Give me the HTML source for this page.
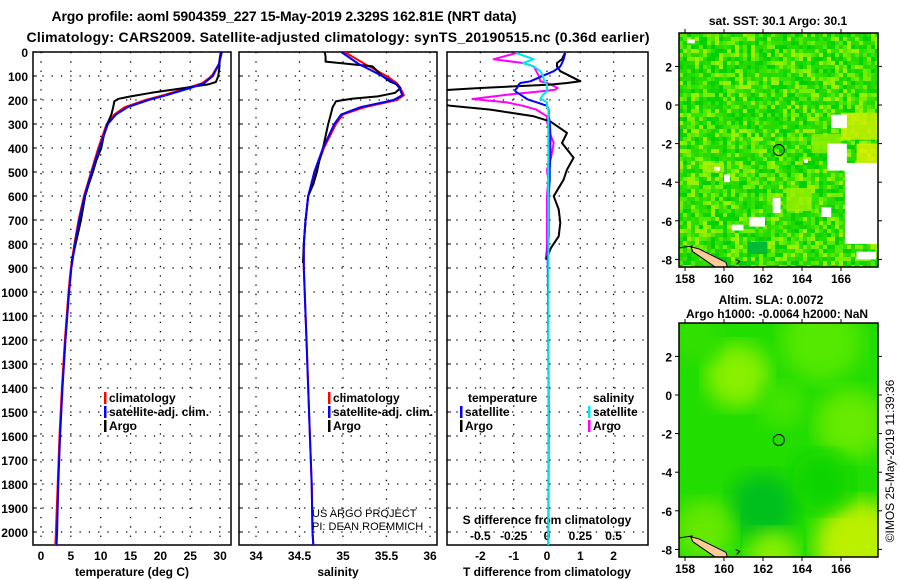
<!DOCTYPE html>
<html><head><meta charset="utf-8"><style>
html,body{margin:0;padding:0;background:#fff;}
svg{display:block;font-family:"Liberation Sans",sans-serif;font-weight:bold;}
</style></head><body>
<svg id="chart" width="900" height="580" viewBox="0 0 900 580">
<defs>
<clipPath id="c1"><rect x="33" y="52" width="198" height="493"/></clipPath>
<clipPath id="c2"><rect x="239" y="52" width="198" height="493"/></clipPath>
<clipPath id="c3"><rect x="447" y="52" width="201" height="493"/></clipPath>
<clipPath id="cm1"><rect x="679" y="33" width="199" height="234"/></clipPath>
<clipPath id="cm2"><rect x="679" y="323" width="199" height="234"/></clipPath>
<filter id="blur"><feGaussianBlur stdDeviation="10"/></filter>
</defs>
<text x="284" y="21" font-size="14" text-anchor="middle" textLength="465">Argo profile: aoml 5904359_227 15-May-2019 2.329S 162.81E (NRT data)</text>
<text x="338" y="42" font-size="14" text-anchor="middle" textLength="623">Climatology: CARS2009. Satellite-adjusted climatology: synTS_20190515.nc (0.36d earlier)</text>
<g id="g"></g>
</svg>
<script>
// ---------- data ----------
const depthTicks=[0,100,200,300,400,500,600,700,800,900,1000,1100,1200,1300,1400,1500,1600,1700,1800,1900,2000];
const tTicks=[0,5,10,15,20,25,30];
const sTicks=[34,34.5,35,35.5,36];
const sTickLabels=["34","34.5","35","35.5","36"];
const dtTicks=[-2,-1,0,1,2];
const dsTicks=[-0.5,-0.25,0,0.25,0.5];
const dsTickLabels=["-0.5","-0.25","0","0.25","0.5"];

const climDepth=[0,50,100,130,150,180,200,230,260,300,400,500,600,700,800,900,1000,1200,1400,1600,1800,2000,2060];
const climTemp=[30.1,29.8,28.6,27,24.5,20.5,17.5,14,12.3,11,9.6,8.4,7.2,6.3,5.6,5.0,4.6,4.0,3.5,3.1,2.8,2.5,2.4];
const satTemp=[30.3,29.8,28.8,27.3,25,21,18,14.5,12.6,11.2,9.8,8.5,7.3,6.4,5.7,5.1,4.7,4.1,3.6,3.2,2.9,2.7,2.6];
const climSal=[35.02,35.25,35.5,35.62,35.66,35.7,35.62,35.25,35.0,34.92,34.78,34.68,34.6,34.57,34.55,34.55,34.56,34.58,34.6,34.62,34.64,34.65,34.66];
const satSal=[34.98,35.18,35.45,35.6,35.65,35.68,35.58,35.2,34.98,34.9,34.77,34.67,34.6,34.57,34.55,34.55,34.56,34.58,34.6,34.62,34.64,34.65,34.66];
const argoDepth=[0,20,40,60,100,125,135,150,170,185,195,205,230,260,300,350,400,450,500,550,600,700,800,880];
const argoTemp=[30.2,30.0,29.9,29.9,29.7,29.3,28,24,18.5,15,13,12.3,12.1,11.8,11.1,10.5,10.1,9.3,8.7,8.0,7.4,6.7,5.8,5.1];
const argoSal=[34.79,34.8,34.8,35.34,35.45,35.55,35.62,35.66,35.6,35.4,35.1,34.92,34.88,34.86,34.83,34.8,34.77,34.73,34.7,34.66,34.6,34.57,34.55,34.54];

const diffDepth=[4,30,46,60,80,101,122,129,136,150,157,164,178,196,199,210,224,240,268,289,337,379,441,490,532,601,656,712,768,816,865,1000,1500,2060];
const dtArgo=[0.54,0.45,0.3,0.3,0.4,0.7,1.0,0.6,0.1,-2.0,-2.9,-3.4,-3.6,-3.6,-3.5,-3.4,-2.9,-1.7,-0.4,0.1,0.6,0.45,0.8,0.6,0.5,0.2,0.35,0.4,0.35,0.12,-0.03,null,null,null];
const dtSat=[0.55,0.5,0.45,0.4,0.2,-0.15,-0.5,-0.8,-0.85,-0.9,-0.95,-0.95,-0.8,-0.6,-0.55,-0.3,0.0,0.05,0.05,0.08,0.1,0.1,0.1,0.08,0.08,0.05,0.05,0.05,0.05,0.02,0.02,0.03,0.05,0.04];
const dsArgo=[-0.23,-0.4,-0.18,-0.1,-0.08,-0.06,-0.05,0.0,0.03,0.08,0.06,-0.05,-0.3,-0.56,-0.5,-0.3,-0.18,-0.08,0.0,0.0,0.02,0.05,0.03,0.0,0.01,0.0,0.0,0.0,0.0,0.0,-0.01,null,null,null];
const dsSat=[-0.23,-0.1,-0.18,-0.1,-0.05,-0.03,-0.02,-0.01,0.0,0.0,0.0,0.0,-0.03,-0.05,-0.03,0.0,0.0,0.01,0.01,0.01,0.01,0.01,0.01,0.01,0.01,0.01,0.01,0.01,0.01,0.01,0.01,0.01,0.01,0.01];

const mapLonTicks=[158,160,162,164,166];
const mapLatTicks=[2,0,-2,-4,-6,-8];
const floatLon=162.81, floatLat=-2.329;

// ---------- scales ----------
const yD=d=>52+d*0.24;
const xT=v=>41+v*5.97;
const xS=v=>256+(v-34)*87;
const xDT=v=>547+v*33.3;
const xDS=v=>547+v*133.3;
const mX=lon=>685+(lon-158)*19.5;
const mY1=lat=>105-lat*19.3;
const mY2=lat=>395-lat*19.3;

const NS="http://www.w3.org/2000/svg";
const G=document.getElementById('g');
function mk(tag,attrs,parent){const e=document.createElementNS(NS,tag);for(const k in attrs)e.setAttribute(k,attrs[k]);(parent||G).appendChild(e);return e;}
function txt(x,y,s,size,anchor,parent){const e=mk('text',{x:x,y:y,'font-size':size,'text-anchor':anchor||'middle'},parent);e.textContent=s;return e;}

const panels=[{x0:33,x1:231,name:'temperature-panel',clip:'c1'},{x0:239,x1:437,name:'salinity-panel',clip:'c2'},{x0:447,x1:648,name:'difference-panel',clip:'c3'}];
const vgrid=[tTicks.map(xT),sTicks.map(xS),dtTicks.map(xDT)];

panels.forEach((p,i)=>{
  const grp=mk('g',{});
  
  
  depthTicks.forEach(d=>{
    const l=mk('line',{x1:p.x0,x2:p.x1,y1:yD(d),y2:yD(d),stroke:'#000','stroke-width':1.3,'stroke-dasharray':'1.3,8'},grp);
    
    
    const t=mk('line',{x1:p.x0,x2:p.x0+4,y1:yD(d),y2:yD(d),stroke:'#000'},grp);
    
    
  });
  vgrid[i].forEach(x=>{
    const l=mk('line',{x1:x,x2:x,y1:52,y2:545,stroke:'#000','stroke-width':1.3,'stroke-dasharray':'1.3,8'},grp);
    
    
  });
  const r=mk('rect',{x:p.x0,y:52,width:p.x1-p.x0,height:493,fill:'none',stroke:'#000','stroke-width':1.5},grp);
  
  
});

depthTicks.forEach(d=>{
  const t=txt(28,yD(d)+5,String(d),12,'end');
  
  
});
tTicks.forEach(v=>{const t=txt(xT(v),560,String(v),12);});
sTicks.forEach((v,i)=>{const t=txt(xS(v),560,sTickLabels[i],12);});
dtTicks.forEach(v=>{const t=txt(xDT(v),560,String(v),12);});
dsTicks.forEach((v,i)=>{const t=txt(xDS(v),540,dsTickLabels[i],12);});

let t;
t=txt(132,576,'temperature (deg C)',12);
t=txt(338,576,'salinity',12);
t=txt(547,576,'T difference from climatology',12);
t=txt(547,524,'S difference from climatology',12);
t=txt(312,517,'US ARGO PROJECT',11,'start');t.setAttribute('font-weight','normal');
t=txt(312,530,'PI: DEAN ROEMMICH',11,'start');t.setAttribute('font-weight','normal');

function line(depths,vals,xf,color,clip,name,w){
  let d='',pen=false;
  depths.forEach((dep,i)=>{const v=vals[i];if(v===null||v===undefined){pen=false;return;}d+=(pen?'L':'M')+xf(v).toFixed(1)+','+yD(dep).toFixed(1);pen=true;});
  const e=mk('path',{d:d,fill:'none',stroke:color,'stroke-width':w||2,'clip-path':'url(#'+clip+')','stroke-linejoin':'round'});
  
  
}
line(climDepth,climTemp,xT,'#ff0000','c1','climatology-temperature-line');
line(argoDepth,argoTemp,xT,'#000','c1','argo-temperature-line');
line(climDepth,satTemp,xT,'#0000ff','c1','satellite-temperature-line');
line(climDepth,climSal,xS,'#ff0000','c2','climatology-salinity-line');
line(argoDepth,argoSal,xS,'#000','c2','argo-salinity-line');
line(climDepth,satSal,xS,'#0000ff','c2','satellite-salinity-line');
line(diffDepth,dsArgo,xDS,'#ff00ff','c3','argo-s-diff-line');
line(diffDepth,dtArgo,xDT,'#000','c3','argo-t-diff-line');
line(diffDepth,dtSat,xDT,'#0000ff','c3','satellite-t-diff-line');
line(diffDepth,dsSat,xDS,'#00e5ee','c3','satellite-s-diff-line');

function legend(x,y,color,label){
  const b=mk('rect',{x:x,y:y-10,width:2.5,height:12,fill:color});
  
  
  const tt=txt(x+5,y,label,12,'start');
  
  
}
legend(104,402,'#ff0000','climatology');
legend(104,416,'#0000ff','satellite-adj. clim.');
legend(104,430,'#000','Argo');
legend(328,402,'#ff0000','climatology');
legend(328,416,'#0000ff','satellite-adj. clim.');
legend(328,430,'#000','Argo');
t=txt(468,402,'temperature',12,'start');
t=txt(593,402,'salinity',12,'start');
legend(460,416,'#0000ff','satellite');
legend(460,430,'#000','Argo');
legend(588,416,'#00e5ee','satellite');
legend(588,430,'#ff00ff','Argo');

// ---------- maps ----------
function hash(i,j){let h=(i*374761393+j*668265263)^0x5bd1e995;h=(h^(h>>>13))*1274126177;h=h^(h>>>16);return (h>>>0)/4294967295;}
const pal=['#22dd00','#33e200','#11d500','#55e800','#00d000','#77ee00','#2ad800','#99f000'];
const whites=[[165.5,166.3,-0.5,-1.2],[165.3,166.3,-2.0,-3.4],[166.2,168,-3.0,-7.2],[161.3,162.1,-5.8,-6.3],[160.4,161,-6.2,-6.5],[162.5,162.9,-4.8,-5.6],[165,165.5,-5.3,-5.8],[166.8,167.8,-7.6,-8.0],[158.1,158.5,3.4,3.2],[159.5,159.8,-3.2,-3.4],[160,160.3,-3.6,-4],[164.1,164.3,-2.8,-3.0]];
const greenFix=[[167.2,167.9,-5.6,-6.3,'#11dd00'],[167.5,167.9,-6.9,-7.5,'#aaf000']];
const yellows=[[166,167.9,-0.4,-1.8,'#ccee00'],[166.8,167.9,-2.0,-3.2,'#ddee00'],[164.5,166,-1.5,-2.5,'#88ee00'],[163.2,164.5,-4.3,-5.5,'#99f000'],[158.9,160,-3.0,-3.5,'#aaee00']];
function drawMap(yf,top,clip,name,smooth){
  const grp=mk('g',{'clip-path':'url(#'+clip+')'});
  
  
  const base=mk('rect',{x:679,y:top,width:199,height:234,fill:'#22dd00'},grp);
  
  
  if(!smooth){
    for(let i=0;i<50;i++)for(let j=0;j<60;j++){
      const c=pal[Math.floor(hash(i,j)*pal.length)];
      const r=mk('rect',{x:679+i*4,y:top+j*4,width:4,height:4,fill:c},grp);
      
      
    }
    yellows.concat(greenFix).forEach(w=>{const r=mk('rect',{x:mX(w[0]),y:yf(w[2]),width:mX(w[1])-mX(w[0]),height:yf(w[3])-yf(w[2]),fill:w[4],opacity:0.85},grp);});
    whites.forEach(w=>{const r=mk('rect',{x:mX(w[0]),y:yf(w[2]),width:mX(w[1])-mX(w[0]),height:yf(w[3])-yf(w[2]),fill:'#fff'},grp);});
    const a=mk('rect',{x:mX(161.2),y:yf(-7.1),width:20,height:12,fill:'#00bb33'},grp);
  } else {
    const blobs=[[160.7,1.0,32,'#88f000'],[165,2.8,40,'#55e800'],[166.5,-1.5,35,'#66ea00'],[162,-5.8,34,'#00c01a'],[167,-7.8,45,'#bbf000'],[159,-7,30,'#66e800'],[162.5,-8.3,25,'#88ee00'],[163,-0.5,22,'#44e400'],[158.5,3,25,'#33e000'],[165,-4.5,30,'#11d400']];
    blobs.forEach(b=>{const c=mk('circle',{cx:mX(b[0]),cy:yf(b[1]),r:b[2],fill:b[3],filter:'url(#blur)'},grp);});
  }
  const coast=mk('path',{d:'M'+mX(158.3)+','+yf(-7.35)+' L'+mX(158.7)+','+yf(-7.45)+' L'+mX(160.1)+','+yf(-8.15)+' L'+mX(160.2)+','+yf(-8.5)+' L'+mX(159.7)+','+yf(-8.5)+' L'+mX(158.4)+','+yf(-7.6)+' Z',fill:'#ffcc99',stroke:'#000','stroke-width':1},grp);
  
  
  const c2=mk('path',{d:'M679,'+yf(-7.4)+' L'+mX(158.4)+','+yf(-7.3)+' M'+mX(160.6)+','+yf(-8)+' l4,2 l-3,3',fill:'none',stroke:'#000','stroke-width':1},grp);
  
  
  const fl=mk('circle',{cx:mX(floatLon),cy:yf(floatLat),r:5.5,fill:'none',stroke:'#000','stroke-width':1},grp);
  
  
  const fr=mk('rect',{x:679,y:top,width:199,height:234,fill:'none',stroke:'#000','stroke-width':1.5});
  
  
  mapLonTicks.forEach(l=>{
    mk('line',{x1:mX(l),x2:mX(l),y1:top,y2:top-4,stroke:'#000'});
    mk('line',{x1:mX(l),x2:mX(l),y1:top+234,y2:top+238,stroke:'#000'});
    const tt=txt(mX(l),top+250,String(l),12);
    
    
  });
  mapLatTicks.forEach(l=>{
    mk('line',{x1:679,x2:675,y1:yf(l),y2:yf(l),stroke:'#000'});
    mk('line',{x1:878,x2:882,y1:yf(l),y2:yf(l),stroke:'#000'});
    const tt=txt(672,yf(l)+5,String(l),12,'end');
    
    
  });
}
drawMap(mY1,33,'cm1','sst-map',false);
drawMap(mY2,323,'cm2','sla-map',true);
t=txt(778,25,'sat. SST: 30.1 Argo: 30.1',12);
t=txt(771,304,'Altim. SLA: 0.0072',12);
t=txt(777,318,'Argo h1000: -0.0064 h2000: NaN',12);
t=txt(0,0,'©IMOS 25-May-2019 11:39:36',12);t.setAttribute('font-weight','normal');t.setAttribute('transform','translate(894,461) rotate(-90)');
</script>
</body></html>
